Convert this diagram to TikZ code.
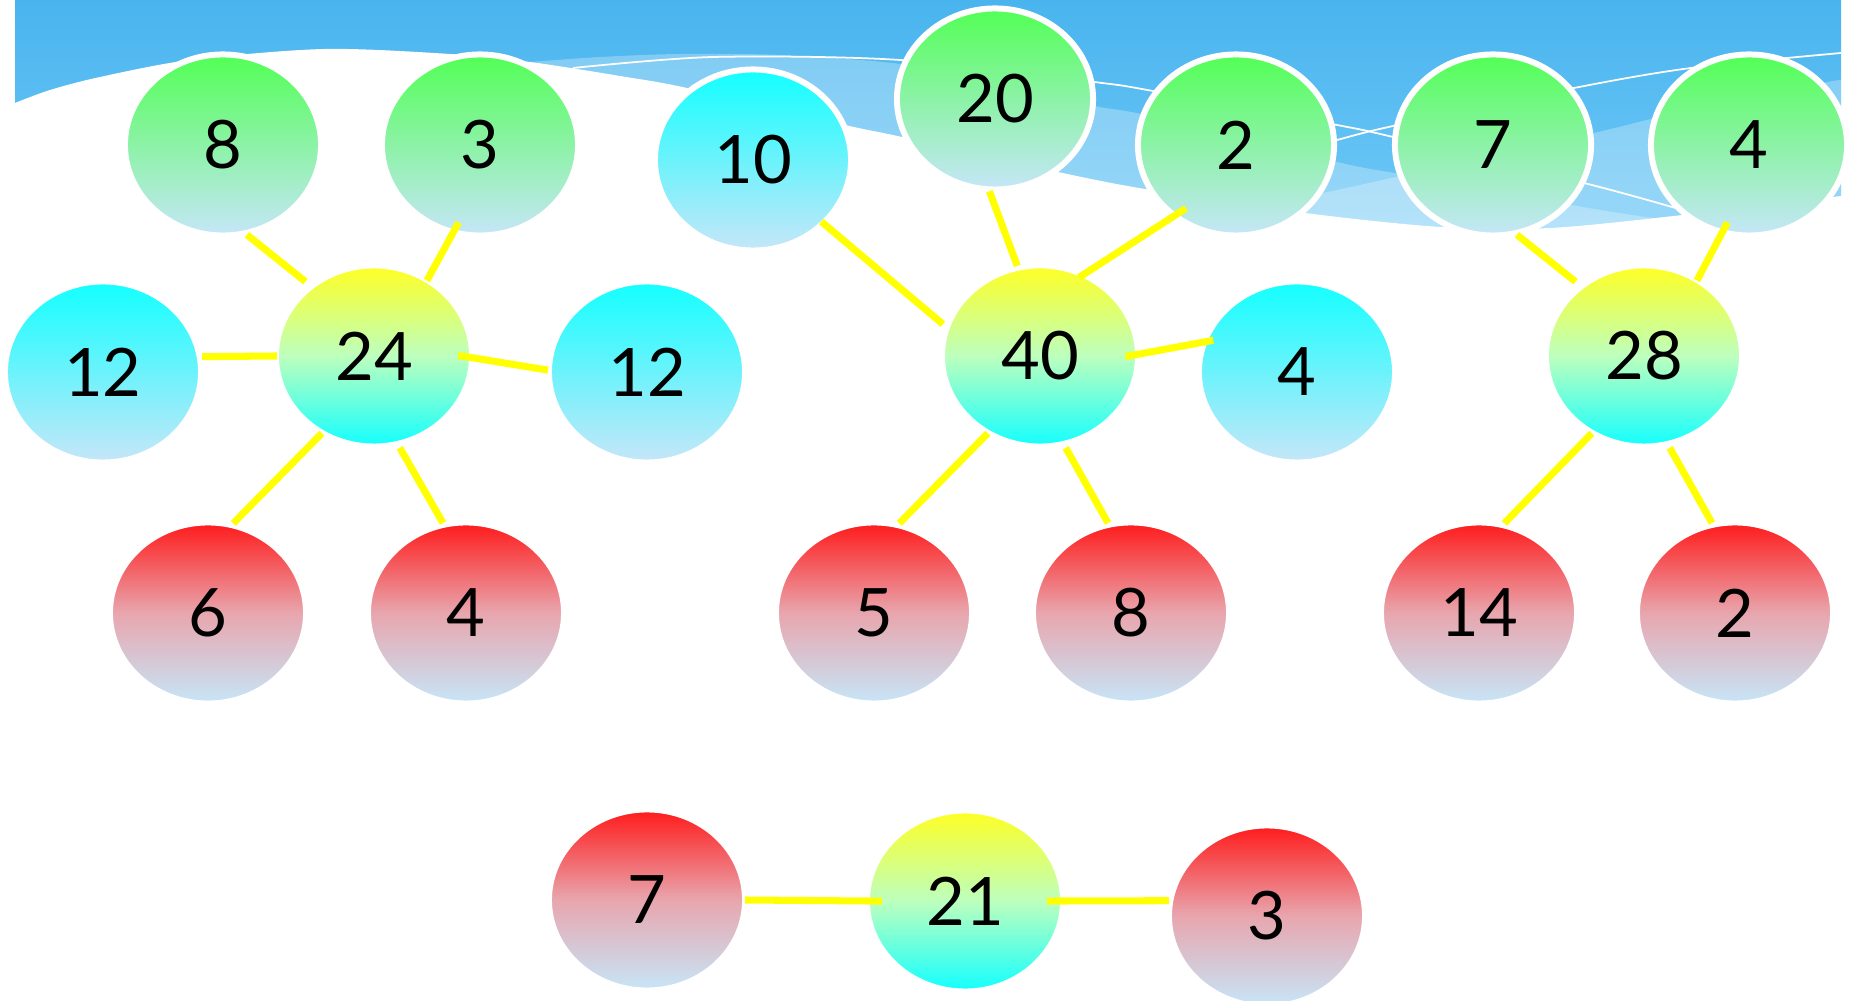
\documentclass[tikz,border=0pt]{standalone}
\usepackage{fontspec}
\setmainfont{Lato}
\usepackage{tikz}
\usetikzlibrary{shapes.geometric}
\definecolor{skyA}{HTML}{49B4EE}
\definecolor{skyB}{HTML}{70C9F7}
\definecolor{pale}{HTML}{C6E6F8}
\definecolor{leaf}{HTML}{52FF55}
\definecolor{aqua}{HTML}{12FFFF}
\definecolor{lemon}{HTML}{FFFF22}
\definecolor{mint}{HTML}{BDFFBE}
\definecolor{rose}{HTML}{FF1A1A}
\definecolor{blush}{HTML}{E8A6AE}
\definecolor{linkyel}{HTML}{FFFF00}

\begin{document}
\begin{tikzpicture}[x=0.01cm, y=-0.01cm,
 ball/.style={ellipse, minimum width=1.96cm, minimum height=1.81cm, inner sep=0pt,
 outer sep=0pt, draw=white, line width=1.7pt, font=\fontsize{19}{19}\selectfont},
 greenball/.style={ball, top color=leaf, bottom color=pale},
 cyanball/.style={ball, top color=aqua, bottom color=pale},
 hubball/.style={ball, top color=lemon, bottom color=aqua, middle color=mint},
 redball/.style={ball, top color=rose, bottom color=pale, middle color=blush},
 link/.style={draw=linkyel, line width=2pt},
]
 \useasboundingbox (0,0) rectangle (1851,1001);

 % banner
 \shade[top color=skyA, bottom color=skyB] (15,0) rectangle (1841,232);
 \begin{scope}
 \clip (15,0) rectangle (1841,240);
 \fill[white, opacity=0.28] plot[smooth] coordinates {(530,62) (600,57) (680,54) (780,55) (900,64)
 (1000,85) (1094,106) (1150,116) (1337,162) (1400,174) (1500,192) (1600,210) (1700,225)}
 -- (1700,260) -- (530,260) -- cycle;
 \fill[white, opacity=0.28] plot[smooth] coordinates {(1150,230) (1250,208) (1337,190) (1400,176)
 (1500,153) (1594,133) (1655,118) (1750,96) (1845,79)} -- (1845,260) -- (1150,260) -- cycle;
 \draw[white, line width=0.5pt] plot[smooth] coordinates {(573,68) (713,57) (900,60) (1094,82)
 (1153,91) (1337,125) (1393,137) (1584,183) (1679,209) (1720,222)};
 \draw[white, line width=0.5pt] plot[smooth] coordinates {(1290,153) (1337,140) (1393,126)
 (1574,88) (1691,68) (1841,53)};
 \end{scope}
 \fill[white] plot[smooth] coordinates {(15,103) (50,90) (100,77) (190,60) (324,49) (450,54)
 (530,62) (620,76) (687,88) (845,125) (902,137) (1058,172) (1145,189) (1305,213) (1441,227)
 (1550,228) (1683,215) (1841,196)} -- (1851,196) -- (1851,1001) -- (0,1001) -- (0,103) -- cycle;

 \node[greenball] (g8) at (223,145) {8};
 \node[greenball] (g3) at (480,145) {3};
 \node[cyanball] (k10) at (753,160) {10};
 \node[greenball] (g20) at (995,99) {20};
 \node[greenball] (g2) at (1236,145) {2};
 \node[greenball] (g7) at (1493,145) {7};
 \node[greenball] (g4) at (1749,145) {4};

 \node[cyanball] (k12a) at (103,372) {12};
 \node[hubball] (c24) at (374,356) {24};
 \node[cyanball] (k12b) at (647,372) {12};
 \node[hubball] (c40) at (1040,356) {40};
 \node[cyanball] (k4) at (1297,372) {4};
 \node[hubball] (c28) at (1644,356) {28};

 \node[redball] (r6) at (208,613) {6};
 \node[redball] (r4) at (466,613) {4};
 \node[redball] (r5) at (874,613) {5};
 \node[redball] (r8) at (1131,613) {8};
 \node[redball] (r14) at (1479,613) {14};
 \node[redball] (r2) at (1735,613) {2};

 \node[redball] (r7) at (647,900) {7};
 \node[hubball] (c21) at (965,901) {21};
 \node[redball] (r3) at (1267,916) {3};

 \draw[link, shorten <=-0.01cm, shorten >=0.025cm] (c24.180) -- (k12a.9);
 \draw[link, shorten <=-0.14cm, shorten >=0.01cm] (c24.359) -- (k12b.179);
 \draw[link, shorten <=0.005cm, shorten >=0.025cm] (c24.236) -- (r6.75);
 \draw[link, shorten <=0.045cm, shorten >=0.02cm] (c24.285) -- (r4.104);
 \draw[link, shorten <=0.025cm, shorten >=0.075cm] (g8.284) -- (c24.132);
 \draw[link, shorten <=-0.11cm, shorten >=-0.005cm] (g3.253) -- (c24.55);

 \draw[link, shorten <=-0.025cm, shorten >=0.053cm] (k10.318) -- (c40.163);
 \draw[link, shorten <=0.02cm, shorten >=0.02cm] (g20.266) -- (c40.104);
 \draw[link, shorten <=-0.135cm, shorten >=-0.05cm] (g2.229) -- (c40.62);
 \draw[link, shorten <=-0.13cm, shorten >=-0.09cm] (c40.1) -- (k4.162);
 \draw[link, shorten <=0.005cm, shorten >=0.025cm] (c40.236) -- (r5.75);
 \draw[link, shorten <=0.045cm, shorten >=0.02cm] (c40.285) -- (r8.104);

 \draw[link, shorten <=0.025cm, shorten >=0.075cm] (g7.284) -- (c28.132);
 \draw[link, shorten <=-0.11cm, shorten >=-0.005cm] (g4.253) -- (c28.55);
 \draw[link, shorten <=0.005cm, shorten >=0.025cm] (c28.236) -- (r14.75);
 \draw[link, shorten <=0.045cm, shorten >=0.02cm] (c28.285) -- (r2.104);

 \draw[link, shorten <=0cm, shorten >=-0.15cm] (r7.0) -- (c21.180);
 \draw[link, shorten <=-0.16cm, shorten >=0.015cm] (c21.0) -- (r3.171);
\end{tikzpicture}
\end{document}
